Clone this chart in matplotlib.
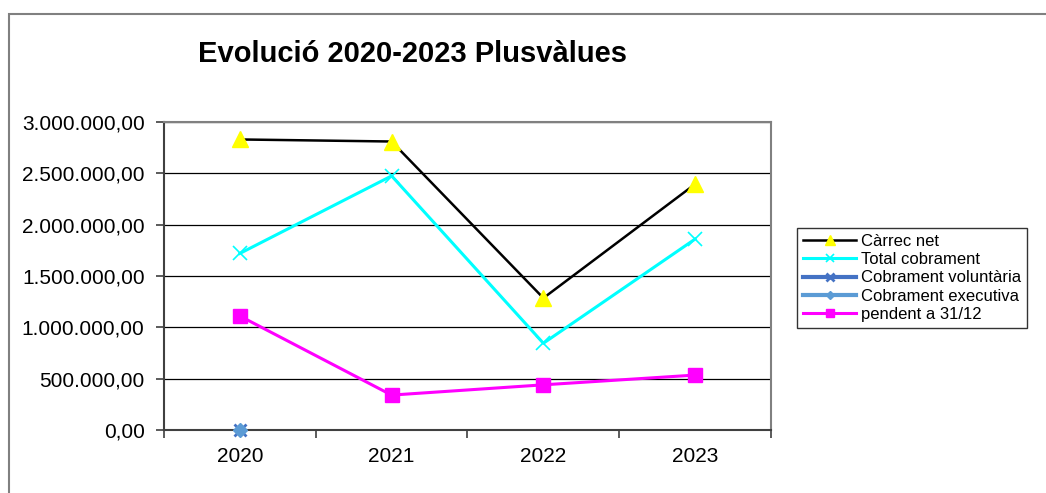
import numpy as np
import matplotlib
matplotlib.use("Agg")
import matplotlib.pyplot as plt
from matplotlib.ticker import FuncFormatter, FixedLocator
from matplotlib.patches import Rectangle

plt.rcParams['font.family'] = ['Liberation Sans', 'DejaVu Sans']

years = ["2020", "2021", "2022", "2023"]
carrec_net = [2830000, 2810000, 1285000, 2395000]
total_cobrament = [1720000, 2475000, 845000, 1860000]
cobrament_voluntaria = [0, np.nan, np.nan, np.nan]
cobrament_executiva = [0, np.nan, np.nan, np.nan]
pendent = [1110000, 340000, 440000, 535000]
yticks = [0, 500000, 1000000, 1500000, 2000000, 2500000, 3000000]


def fmt_es(v, pos=None):
    s = f"{v:,.2f}"
    return s.replace(",", "X").replace(".", ",").replace("X", ".")


fig = plt.figure(figsize=(10.46, 4.93), dpi=100)

# outer chart frame (left and top visible)
fig.patches.append(Rectangle((9 / 1046, -0.05), 1.2, 1 - 14 / 493 + 0.05,
                             transform=fig.transFigure, fill=False,
                             edgecolor="#808080", lw=1.5))

ax = fig.add_axes([164 / 1046, 63 / 493, 607 / 1046, 308 / 493])
x = np.arange(len(years))

ax.plot(x, carrec_net, color="black", lw=1.8, marker="^", ms=11,
        mfc="yellow", mec="yellow", label="Càrrec net", zorder=4)
ax.plot(x, total_cobrament, color="#00FFFF", lw=2.2, marker="x", ms=10,
        mew=1.2, mec="#00FFFF", label="Total cobrament", zorder=4)
ax.plot(x, cobrament_voluntaria, color="#4472C4", lw=3, marker="x", ms=9,
        mew=2, label="Cobrament voluntària", zorder=5, clip_on=False)
ax.plot(x, cobrament_executiva, color="#5B9BD5", lw=3, marker="D", ms=7,
        label="Cobrament executiva", zorder=6, clip_on=False)
ax.plot(x, pendent, color="#FF00FF", lw=2.2, marker="s", ms=10,
        label="pendent a 31/12", zorder=4)

ax.set_xlim(-0.5, len(years) - 0.5)
ax.set_ylim(0, 3000000)
ax.set_yticks(yticks)
ax.yaxis.set_major_formatter(FuncFormatter(fmt_es))
ax.set_xticks(x)
ax.set_xticklabels(years)
ax.xaxis.set_minor_locator(FixedLocator(np.arange(-0.5, len(years), 1)))
ax.tick_params(axis="x", which="major", length=0, pad=12, labelsize=15)
ax.tick_params(axis="x", which="minor", length=6, width=1.2, color="#404040")
ax.tick_params(axis="y", length=6, width=1.2, color="#404040", pad=8,
               labelsize=15)
ax.grid(axis="y", color="black", lw=0.9)
ax.set_axisbelow(True)
for side in ["left", "bottom"]:
    ax.spines[side].set_color("#404040")
    ax.spines[side].set_linewidth(1.5)
for side in ["top", "right"]:
    ax.spines[side].set_color("#808080")
    ax.spines[side].set_linewidth(1.5)

fig.text(412 / 1046, 1 - 54 / 493, "Evolució 2020-2023 Plusvàlues",
         ha="center", va="center", fontsize=21, fontweight="bold")

leg = fig.legend(loc="upper left", bbox_to_anchor=(797 / 1046, 1 - 228 / 493),
                 fontsize=12, frameon=True, fancybox=False, handlelength=3.2,
                 handletextpad=0.3, labelspacing=0.2, borderpad=0.35,
                 borderaxespad=0, markerscale=0.6)
leg.get_frame().set_edgecolor("black")
leg.get_frame().set_linewidth(1)

fig.savefig("out.png", dpi=100)
